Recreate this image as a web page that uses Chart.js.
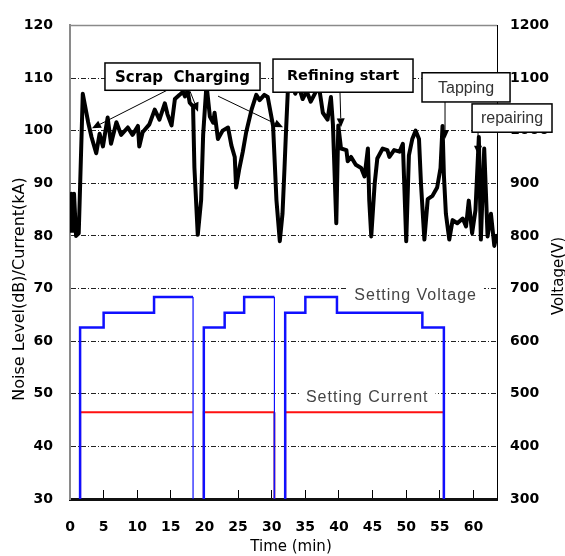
<!DOCTYPE html>
<html>
<head>
<meta charset="utf-8">
<script src="https://cdn.jsdelivr.net/npm/chart.js@4.4.0/dist/chart.umd.min.js"></script>
<style>
  html, body { margin: 0; padding: 0; background: #fff; }
  #wrap { width: 565px; height: 556px; }
</style>
</head>
<body>
<div id="wrap"><canvas id="noiseChart" width="565" height="556"></canvas></div>
<script>
// Noise level (left axis, dB)
const noiseTime = [
  0.0, 0.2, 0.4, 0.6, 0.9, 1.3, 1.9, 2.7, 3.2, 3.9,
  4.4, 4.9, 5.6, 6.1, 6.9, 7.6, 8.6, 9.3, 10.1, 10.3,
  10.8, 11.8, 12.6, 13.3, 14.1, 14.5, 15.1, 15.6, 16.3, 16.8,
  17.1, 17.5, 17.8, 18.3, 18.5, 19.0, 19.5, 19.8, 20.3, 20.8,
  21.3, 21.5, 22.0, 22.7, 23.5, 24.0, 24.5, 24.7, 25.2, 25.7,
  26.2, 27.0, 27.7, 28.2, 28.9, 29.4, 30.2, 30.7, 31.2, 31.6,
  31.9, 32.1, 32.4, 32.7, 33.5, 34.0, 34.6, 35.2, 35.8, 36.4,
  37.0, 37.3, 37.6, 38.3, 38.8, 39.1, 39.6, 39.9, 40.3, 41.1,
  41.3, 41.8, 42.5, 43.3, 43.8, 44.3, 44.5, 44.8, 45.3, 45.7,
  46.5, 47.2, 47.5, 48.2, 49.0, 49.5, 50.0, 50.4, 50.9, 51.4,
  51.9, 52.2, 52.7, 53.2, 53.9, 54.6, 55.1, 55.4, 55.6, 55.9,
  56.4, 56.9, 57.6, 58.4, 58.9, 59.3, 59.8, 60.3, 60.8, 61.1,
  61.6, 62.1, 62.6, 63.1, 63.4
];
const noiseLevel = [
  81, 88, 81, 88, 80, 80.5, 107, 101.6, 98.8, 95.7,
  99.4, 97, 102.5, 97.5, 101.6, 99.2, 100.6, 99.2, 100.9, 97,
  99.7, 101.2, 104, 102.1, 105.2, 103.1, 101, 106, 106.8, 107.4,
  106.5, 107.6, 105.3, 104.6, 93, 80.2, 86.8, 99.2, 108.8, 102.7,
  101.5, 103.4, 98.4, 100, 100.6, 97.2, 95, 89.2, 92.9, 96,
  99.7, 104, 106.8, 105.8, 106.8, 106.4, 100.9, 86.8, 79, 84.2,
  92.9, 99.2, 107.7, 110.5, 107, 108.5, 106, 107.5, 105.5, 107,
  108.5, 106, 103.4, 102.1, 106.4, 101.2, 82.4, 101, 96.6, 96.3,
  94.2, 95, 93.5, 92.9, 91.3, 96.6, 86.8, 79.9, 89.8, 94.7,
  96.6, 96.3, 95, 96.3, 96, 97.5, 79, 95.3, 98.4, 100,
  98.4, 89.8, 79.3, 87, 87.6, 89.2, 92.9, 100.9, 91.6, 84.2,
  79.3, 83, 82.4, 83.3, 81.8, 86.7, 80.5, 84.9, 98.8, 79.3,
  96.6, 79.9, 84.2, 78.1, 80
];

// Setting voltage (right axis, V): corner points of the step line, null = gap
const voltTime  = [1.5, 1.5, 5.0, 5.0, 12.5, 12.5, 18.3, 18.3, 19.1,
                   19.9, 19.9, 23.0, 23.0, 25.9, 25.9, 30.4, 30.4, 31.2,
                   32.0, 32.0, 35.0, 35.0, 39.7, 39.7, 52.4, 52.4, 55.6, 55.6];
const voltLevel = [300, 626, 626, 654, 654, 684, 684, 300, null,
                   300, 626, 626, 654, 654, 684, 684, 300, null,
                   300, 654, 654, 684, 684, 654, 654, 626, 626, 300];

// Setting current (left axis, kA)
const currTime  = [1.5, 1.5, 18.3, 18.9, 19.9, 19.9, 30.4, 30.4, 31.2, 32.0, 32.0, 55.6, 55.6];
const currLevel = [30, 46.5, 46.5, null, 30, 46.5, 46.5, 30, null, 30, 46.5, 46.5, 30];

// text notes on the plot (data units)
const noteBoxes = [
  { text: 'Scrap  Charging', x1: 5.2, x2: 28.26, y1: 112.86, y2: 107.67, font: 'bold 15px "DejaVu Sans"', color: '#000' },
  { text: 'Refining start', x1: 30.19, x2: 51.01, y1: 113.6, y2: 107.3, font: 'bold 14.5px "DejaVu Sans"', color: '#000' },
  { text: 'Tapping', x1: 52.35, x2: 65.44, y1: 111.0, y2: 105.45, font: '16px "Liberation Sans"', color: '#333' },
  { text: 'repairing', x1: 59.79, x2: 71.68, y1: 105.08, y2: 99.7, font: '16px "Liberation Sans"', color: '#333' }
];
const noteArrows = [
  [14.43, 107.67, 3.27, 100.44],
  [22.01, 106.56, 31.68, 100.63],
  [17.85, 107.49, 19.04, 103.6],
  [40.15, 107.3, 40.3, 100.63],
  [55.77, 105.45, 55.77, 98.4],
  [60.68, 99.7, 60.68, 95.44]
];
const settingLabels = [
  { text: 'Setting Voltage', x: 51.4, y: 68.6 },
  { text: 'Setting Current', x: 44.2, y: 49.27 }
];

function toPoints(xs, ys) {
  return xs.map((t, i) => ({ x: t, y: ys[i] }));
}

function drawArrow(ctx, x1, y1, x2, y2) {
  const ang = Math.atan2(y2 - y1, x2 - x1);
  const len = 9, half = 4;
  const bx = x2 - Math.cos(ang) * len, by = y2 - Math.sin(ang) * len;
  ctx.beginPath();
  ctx.moveTo(x1, y1);
  ctx.lineTo(bx, by);
  ctx.stroke();
  ctx.beginPath();
  ctx.moveTo(x2, y2);
  ctx.lineTo(bx + half * Math.sin(ang), by - half * Math.cos(ang));
  ctx.lineTo(bx - half * Math.sin(ang), by + half * Math.cos(ang));
  ctx.closePath();
  ctx.fill();
}

const notesPlugin = {
  id: 'notes',
  beforeDatasetsDraw(chart) {
    const { ctx, chartArea: a, scales: { x, y } } = chart;
    ctx.save();
    // grey top frame
    ctx.strokeStyle = '#8a8a8a';
    ctx.lineWidth = 1.5;
    ctx.beginPath();
    ctx.moveTo(a.left, a.top);
    ctx.lineTo(a.right, a.top);
    ctx.stroke();

    // "Setting ..." captions sitting on the grid lines
    ctx.font = '16px "Liberation Sans"';
    ctx.letterSpacing = '1px';
    ctx.textAlign = 'center';
    ctx.textBaseline = 'middle';
    settingLabels.forEach(l => {
      const px = x.getPixelForValue(l.x);
      const py = y.getPixelForValue(l.y);
      const w = ctx.measureText(l.text).width;
      ctx.fillStyle = '#fff';
      ctx.fillRect(px - w / 2 - 7, py - 9, w + 14, 18);
      ctx.fillStyle = '#444';
      ctx.fillText(l.text, px, py);
    });
    ctx.letterSpacing = '0px';

    // arrows go under the noise trace
    ctx.strokeStyle = '#000';
    ctx.fillStyle = '#000';
    ctx.lineWidth = 1;
    noteArrows.forEach(n => {
      drawArrow(ctx, x.getPixelForValue(n[0]), y.getPixelForValue(n[1]),
                x.getPixelForValue(n[2]), y.getPixelForValue(n[3]));
    });
    ctx.restore();
  },
  afterDraw(chart) {
    const { ctx, scales: { x, y } } = chart;
    ctx.save();
    noteBoxes.forEach(b => {
      const l = x.getPixelForValue(b.x1), r = x.getPixelForValue(b.x2);
      const t = y.getPixelForValue(b.y1), btm = y.getPixelForValue(b.y2);
      ctx.fillStyle = '#fff';
      ctx.fillRect(l, t, r - l, btm - t);
      ctx.strokeStyle = '#000';
      ctx.lineWidth = 1.5;
      ctx.strokeRect(l, t, r - l, btm - t);
      ctx.font = b.font;
      ctx.fillStyle = b.color;
      ctx.textAlign = 'center';
      ctx.textBaseline = 'middle';
      ctx.fillText(b.text, (l + r) / 2, (t + btm) / 2 + 1);
    });

    // axis titles
    ctx.fillStyle = '#000';
    ctx.textAlign = 'center';
    ctx.textBaseline = 'middle';
    ctx.font = '16px "DejaVu Sans"';
    ctx.save();
    ctx.translate(20, 289);
    ctx.rotate(-Math.PI / 2);
    ctx.fillText('Noise Level(dB)/Current(kA)', 0, 0);
    ctx.restore();
    ctx.font = '15px "DejaVu Sans"';
    ctx.save();
    ctx.translate(559, 276);
    ctx.rotate(-Math.PI / 2);
    ctx.fillText('Voltage(V)', 0, 0);
    ctx.restore();
    ctx.font = '15px "DejaVu Sans"';
    ctx.fillText('Time (min)', 291, 547);
    ctx.restore();
  }
};

const tickFont = { family: 'DejaVu Sans', size: 14, weight: 'bold' };
const isDrop = (c, t) => c.p0.parsed.x === t && c.p1.parsed.x === t;

const ctx = document.getElementById('noiseChart').getContext('2d');
const chart = new Chart(ctx, {
  type: 'line',
  data: {
    datasets: [
      {
        label: 'Noise Level',
        data: toPoints(noiseTime, noiseLevel),
        yAxisID: 'y',
        borderColor: '#000',
        borderWidth: 4,
        borderJoinStyle: 'round',
        borderCapStyle: 'round',
        pointRadius: 0,
        fill: false,
        order: 0
      },
      {
        label: 'Setting Voltage',
        data: toPoints(voltTime, voltLevel),
        yAxisID: 'y2',
        borderColor: '#1010ff',
        borderWidth: 2.5,
        pointRadius: 0,
        fill: false,
        spanGaps: false,
        order: 1,
        segment: {
          // the first two switch-offs are drawn thin in the original
          borderWidth: c => (isDrop(c, 18.3) || isDrop(c, 30.4)) ? 1.2 : undefined
        }
      },
      {
        label: 'Setting Current',
        data: toPoints(currTime, currLevel),
        yAxisID: 'y',
        borderColor: '#ff1010',
        borderWidth: 2,
        pointRadius: 0,
        fill: false,
        spanGaps: false,
        order: 2,
        segment: {
          borderColor: c => isDrop(c, 30.4) ? '#7a1f7a' : undefined,
          borderWidth: c => isDrop(c, 30.4) ? 2 : undefined
        }
      }
    ]
  },
  options: {
    responsive: false,
    animation: false,
    layout: { padding: { top: 13, left: 0, right: 0, bottom: 0 } },
    plugins: {
      legend: { display: false },
      tooltip: { enabled: false }
    },
    scales: {
      x: {
        type: 'linear',
        min: 0,
        max: 63.5,
        ticks: { stepSize: 5, includeBounds: false, font: tickFont, color: '#000', padding: 29, maxRotation: 0 },
        grid: { drawOnChartArea: false, drawTicks: true, tickLength: -9, tickColor: '#000', tickWidth: 1 },
        border: { display: true, color: '#111', width: 3 },
        afterFit: s => { s.height = 57; }
      },
      y: {
        position: 'left',
        min: 30,
        max: 120,
        ticks: { stepSize: 10, font: tickFont, color: '#000', padding: 17 },
        grid: {
          drawTicks: false,
          color: c => (c.tick && (c.tick.value === 30 || c.tick.value === 120)) ? 'rgba(0,0,0,0)' : '#222',
          lineWidth: 1
        },
        border: { display: true, color: '#8a8a8a', width: 2, dash: [5, 2, 1, 2] },
        afterFit: s => { s.width = 70; }
      },
      y2: {
        position: 'right',
        min: 300,
        max: 1200,
        ticks: { stepSize: 100, font: tickFont, color: '#000', padding: 13, callback: v => String(v) },
        grid: { drawOnChartArea: false, drawTicks: false },
        border: { display: true, color: '#000', width: 1 },
        afterFit: s => { s.width = 68; }
      }
    }
  },
  plugins: [notesPlugin]
});
</script>
</body>
</html>
